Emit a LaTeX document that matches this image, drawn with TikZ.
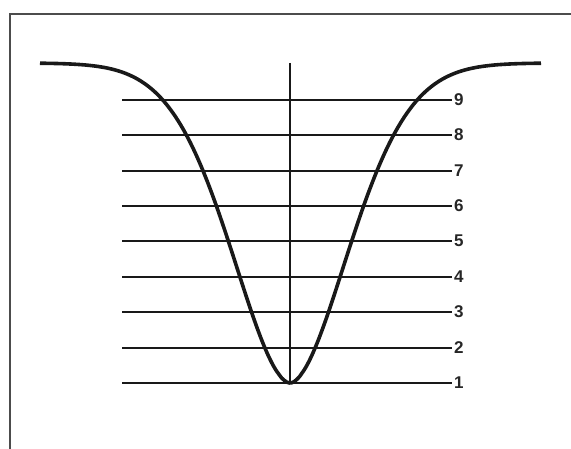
\documentclass[tikz,border=0pt]{standalone}
\usepackage{fontspec}
\setmainfont{Liberation Sans}
\usepackage{tikz}
\usetikzlibrary{calc}
\tikzset{
  frame/.style={line width=1.4pt, draw=black!70},
  level/.style={line width=2pt, draw=black!90},
  axisline/.style={line width=2pt, draw=black!90},
  curve/.style={line width=3.6pt, draw=black!90, line join=round},
  lab/.style={font=\fontsize{17}{18}\selectfont\bfseries, text=black!85, inner sep=0pt, anchor=west},
}

\begin{document}
\begin{tikzpicture}[x=1pt, y=-1pt]
  \useasboundingbox (0,0) rectangle (571,449);
  % frame (only top and left edges fall inside)
  \coordinate (fl) at (10,449);
  \coordinate (fc) at (10,14);
  \coordinate (fr) at (571,14);
  \draw[frame] (fl) -- (fc) -- (fr);
  % levels 1..9
  \foreach \i in {1,...,9} {
    \pgfmathsetmacro{\yy}{383-round(35.4*(\i-1))}
    \coordinate (l\i) at (122,\yy);
    \coordinate (r\i) at (452,\yy);
    \draw[level] (l\i) -- (r\i);
    \node[lab] (n\i) at ($(r\i)+(2,0)$) {\i};
  }
  % axis
  \coordinate (atop) at (290,63);
  \coordinate (abot) at (290,383);
  \draw[axisline] (atop) -- (abot);
  % profile
  \draw[curve] plot[domain=-250:251, samples=200, smooth]
    ({290+\x}, {383-320*(1-exp(-((abs(\x)+0.01)/83)^1.8))});
\end{tikzpicture}
\end{document}
